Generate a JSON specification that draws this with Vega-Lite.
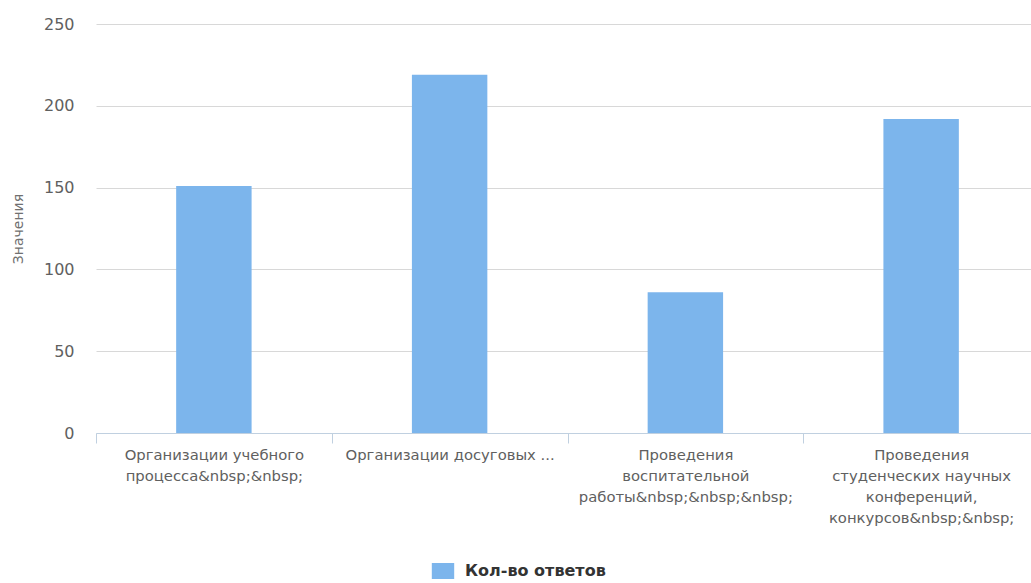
{
  "$schema": "https://vega.github.io/schema/vega-lite/v6.json",
  "autosize": {"type": "none"},
  "width": 935,
  "height": 409,
  "padding": {"left": 96, "top": 24, "right": 0, "bottom": 150},
  "background": "#ffffff",
  "data": {
    "values": [
      {"category": "Организации учебного|процесса&nbsp;&nbsp;", "value": 151, "series": "Кол-во ответов"},
      {"category": "Организации досуговых ...", "value": 219, "series": "Кол-во ответов"},
      {"category": "Проведения|воспитательной|работы&nbsp;&nbsp;&nbsp;", "value": 86, "series": "Кол-во ответов"},
      {"category": "Проведения|студенческих научных|конференций,|конкурсов&nbsp;&nbsp;", "value": 192, "series": "Кол-во ответов"}
    ]
  },
  "config": {
    "view": {"stroke": null},
    "font": "DejaVu Sans"
  },
  "mark": {"type": "bar", "cornerRadius": 0, "width": {"band": 0.32}},
  "encoding": {
    "x": {
      "field": "category",
      "type": "nominal",
      "sort": null,
      "scale": {"paddingInner": 0, "paddingOuter": 0, "range": [0, 943]},
      "axis": {
        "title": null,
        "labelAngle": 0,
        "labelExpr": "datum.value ? split(datum.value, '|') : ''",
        "labelFontSize": 14.8,
        "labelColor": "#606060",
        "labelLineHeight": 21,
        "labelPadding": 4,
        "labelLimit": 240,
        "domainColor": "#C0D0E0",
        "tickColor": "#C0D0E0",
        "tickSize": 10,
        "tickBand": "extent",
        "labelBaseline": "top"
      }
    },
    "y": {
      "field": "value",
      "type": "quantitative",
      "scale": {"domain": [0, 250], "nice": false},
      "axis": {
        "title": "Значения",
        "titleFontSize": 14,
        "titleFontWeight": "normal",
        "titleColor": "#707070",
        "titlePadding": 18,
        "values": [0, 50, 100, 150, 200, 250],
        "labelFontSize": 16,
        "labelColor": "#606060",
        "labelPadding": 22,
        "domain": false,
        "ticks": false,
        "gridColor": "#D8D8D8",
        "gridWidth": 1
      }
    },
    "color": {
      "field": "series",
      "type": "nominal",
      "scale": {"range": ["#7CB5EC"]},
      "legend": {
        "title": null,
        "orient": "none",
        "legendX": 339,
        "legendY": 539,
        "symbolType": "M-1.4,-1L1.4,-1L1.4,1L-1.4,1Z",
        "symbolSize": 256,
        "symbolStrokeWidth": 0,
        "labelFontSize": 16,
        "labelFontWeight": "bold",
        "labelColor": "#333333",
        "labelOffset": 14
      }
    }
  }
}
